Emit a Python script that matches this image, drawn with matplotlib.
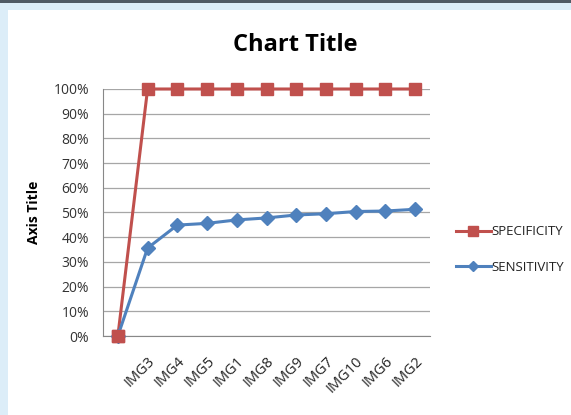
import matplotlib.pyplot as plt
import matplotlib.patches as mpatches
import numpy as np

# category labels (first category has no label)
categories = ['', 'IMG3', 'IMG4', 'IMG5', 'IMG1', 'IMG8', 'IMG9', 'IMG7', 'IMG10', 'IMG6', 'IMG2']
specificity = [0, 100, 100, 100, 100, 100, 100, 100, 100, 100, 100]
sensitivity = [0, 35.6, 44.9, 45.6, 47.0, 47.8, 49.0, 49.5, 50.4, 50.6, 51.3]

plt.rcParams['font.family'] = ['Open Sans', 'DejaVu Sans']

fig = plt.figure(figsize=(5.71, 4.15), dpi=100)
fig.patch.set_facecolor('#dcedf8')

# white chart area and dark top edge
fig.patches.append(mpatches.Rectangle((8 / 571, 0), 1, 1 - 10 / 415,
                                      transform=fig.transFigure, facecolor='white',
                                      edgecolor='none', zorder=-2))
fig.patches.append(mpatches.Rectangle((0, 1 - 3 / 415), 1, 3 / 415,
                                      transform=fig.transFigure, facecolor='#505a64',
                                      edgecolor='none', zorder=-2))

ax = fig.add_axes([103 / 571, 1 - 336 / 415, 327 / 571, 247 / 415])
ax.set_zorder(2)
ax.set_facecolor('none')

x = np.arange(len(categories))
spec_vals = np.array(specificity) / 100
sens_vals = np.array(sensitivity) / 100

ax.plot(x, spec_vals, color='#c0504d', lw=2.2, marker='s', markersize=9,
        label='SPECIFICITY', zorder=3, clip_on=False)
ax.plot(x, sens_vals, color='#4f81bd', lw=2.2, marker='D', markersize=7,
        label='SENSITIVITY', zorder=4, clip_on=False)
# red marker on top at first point, as in the original
ax.plot(x[:1], spec_vals[:1], color='#c0504d', marker='s', markersize=9,
        ls='none', zorder=5, clip_on=False)

ax.set_xlim(-0.5, len(categories) - 0.5)
ax.set_ylim(0, 1)
ax.set_yticks(np.arange(0, 1.01, 0.1))
ax.set_yticklabels([f'{int(round(v * 100))}%' for v in np.arange(0, 1.01, 0.1)],
                   fontsize=10, color='#333333')
ax.set_xticks(x)
ax.set_xticklabels(categories, rotation=45, ha='right', rotation_mode='anchor',
                   fontsize=10.5, color='#222222')
ax.tick_params(axis='x', length=0, pad=13)
ax.tick_params(axis='y', length=0, pad=10)

ax.grid(axis='y', color='#a6a6a6', lw=0.9)
ax.set_axisbelow(True)
for side in ['top', 'right']:
    ax.spines[side].set_visible(False)
for side in ['left', 'bottom']:
    ax.spines[side].set_color('#888888')

ax.set_ylabel('Axis Title', fontsize=10, fontweight='bold', labelpad=9)

fig.text(295 / 571, 1 - 45 / 415, 'Chart Title', ha='center', va='center',
         fontsize=17, fontweight='bold')

leg = ax.legend(loc='center left', bbox_to_anchor=(1.06, 0.35), frameon=False,
                fontsize=9.5, handlelength=2.6, handletextpad=0.1, labelspacing=1.7,
                borderpad=0, markerscale=0.8)
for t in leg.get_texts():
    t.set_color('#222222')

fig.savefig('out.png', dpi=100, facecolor=fig.get_facecolor())
